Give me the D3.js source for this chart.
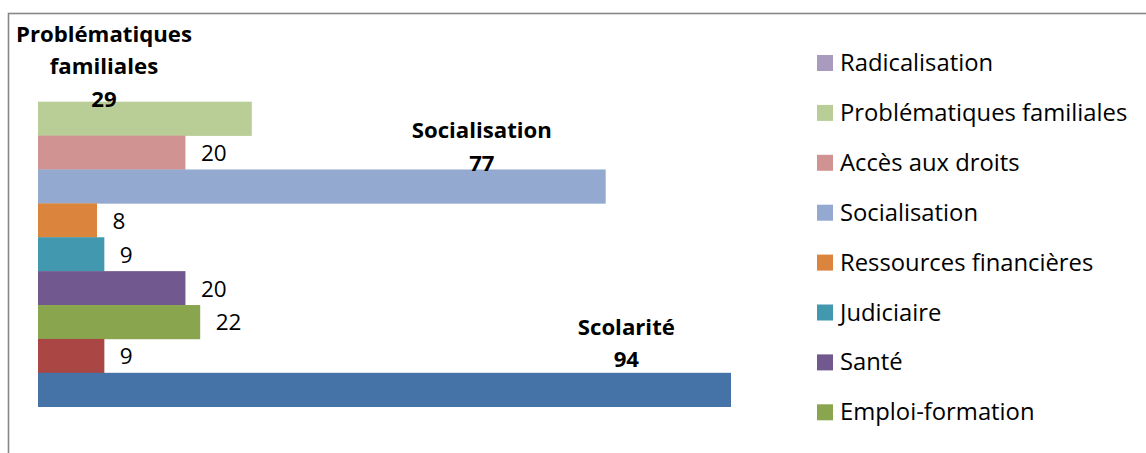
<!DOCTYPE html>
<html><head><meta charset="utf-8">
<script src="https://cdn.jsdelivr.net/npm/d3@7"></script>
<style>body{margin:0;background:#fff}svg{display:block}text{font-family:"Open Sans",Lato,sans-serif}</style>
</head><body><svg id="c" width="1146" height="453"></svg>
<script>
// Categories, top to bottom (legend order)
const categories = ["Radicalisation","Problématiques familiales","Accès aux droits","Socialisation","Ressources financières","Judiciaire","Santé","Emploi-formation","Logement","Scolarité"];
const values = [0,29,20,77,8,9,20,22,9,94];
const colors = ["#A99BBD","#B9CD96","#D19392","#93A9CF","#DB843D","#4198AF","#71588F","#89A54E","#AA4643","#4572A7"];
// Categories whose data label is shown bold with the category name (moved labels)
const boldLabelCats = ["Problématiques familiales","Socialisation","Scolarité"];
const boldLabelLines = [["Problématiques","familiales"],["Socialisation"],["Scolarité"]];
const boldLabelCenterX = [8.95, 60.2, 79.8];   // value-axis units where the moved label is centred
const boldLabelShift = [5.3, 1.5, -5.8];       // baseline of value line relative to bar top (px)

const svg = d3.select("#c");
const W = 1146, H = 453;

// chart frame (only top and left edges visible)
svg.append("rect").attr("x",8.5).attr("y",13.5).attr("width",1300).attr("height",600)
  .attr("fill","none").attr("stroke","#878787").attr("stroke-width",1.6);

const x = d3.scaleLinear().domain([0,100]).range([38, 38 + 693*100/94]);
const y = d3.scaleBand().domain(categories).range([67.8, 406.7]).padding(0);

const data = categories.map((c,i)=>({c, v:values[i], col:colors[i]}));

svg.append("g").selectAll("rect").data(data).join("rect")
  .attr("x", x(0)).attr("y", d=>y(d.c)).attr("width", d=>x(d.v)-x(0)).attr("height", y.bandwidth()+0.3)
  .attr("fill", d=>d.col);

// normal data labels
svg.append("g").selectAll("text").data(data.filter(d=>d.v>0 && !boldLabelCats.includes(d.c))).join("text")
  .attr("x", d=>x(d.v)+15.5).attr("y", d=>y(d.c)+y.bandwidth()/2+8.5)
  .attr("font-size",22.5).attr("fill","#000").text(d=>d.v);

// bold moved labels
boldLabelCats.forEach((c,i)=>{
  const d = data.find(e=>e.c===c);
  const cx = x(boldLabelCenterX[i]);
  const lastBase = y(c) + boldLabelShift[i];
  const lines = boldLabelLines[i].concat([String(d.v)]);
  const n = lines.length;
  lines.forEach((t,k)=>{
    svg.append("text").attr("x",cx).attr("y", lastBase - (n-1-k)*32.5)
      .attr("text-anchor","middle").attr("font-weight","bold").attr("font-size",22.2).attr("fill","#000").text(t);
  });
});

// legend (entries beyond the picture's bottom edge are not visible)
const lg = svg.append("g");
data.forEach((d,i)=>{
  const ly = 55 + i*49.9;
  if (ly + 16 > H) return;
  lg.append("rect").attr("x",817).attr("y",ly).attr("width",16).attr("height",16).attr("fill",d.col);
  lg.append("text").attr("x",840).attr("y",ly+16).attr("font-size",23.8).attr("fill","#000").text(d.c);
});
</script></body></html>
